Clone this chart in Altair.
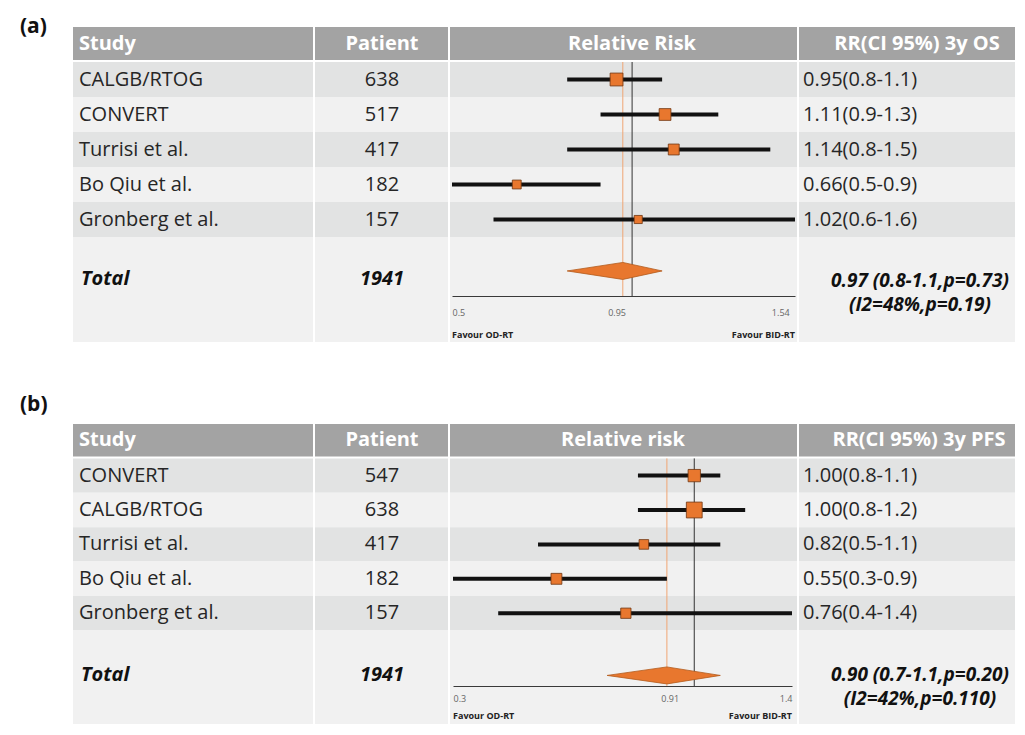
import altair as alt
import pandas as pd

# ---------------- data: panel (a) 3-year overall survival ----------------
os_study = ["CALGB/RTOG", "CONVERT", "Turrisi et al.", "Bo Qiu et al.", "Gronberg et al."]
os_patients = [638, 517, 417, 182, 157]
os_rr = [0.95, 1.11, 1.14, 0.66, 1.02]
os_lo = [0.8, 0.9, 0.8, 0.5, 0.6]
os_hi = [1.1, 1.3, 1.5, 0.9, 1.6]
os_weight = [25, 21, 18, 12, 10]
os_total = 1941
os_pooled = [0.97, 0.8, 1.1]          # estimate, lower, upper
os_summary = ["0.97 (0.8-1.1,p=0.73)", "(I2=48%,p=0.19)"]
os_ticks = [0.5, 0.95, 1.54]
os_domain = [0.5, 1.6]

# ---------------- data: panel (b) 3-year progression-free survival ----------------
pfs_study = ["CONVERT", "CALGB/RTOG", "Turrisi et al.", "Bo Qiu et al.", "Gronberg et al."]
pfs_patients = [547, 638, 417, 182, 157]
pfs_rr = [1.00, 1.00, 0.82, 0.55, 0.76]
pfs_lo = [0.8, 0.8, 0.5, 0.3, 0.4]
pfs_hi = [1.1, 1.2, 1.1, 0.9, 1.4]
pfs_weight = [23, 38, 14, 18, 16]
pfs_total = 1941
pfs_pooled = [0.90, 0.7, 1.1]
pfs_summary = ["0.90 (0.7-1.1,p=0.20)", "(I2=42%,p=0.110)"]
pfs_ticks = [0.3, 0.91, 1.4]
pfs_domain = [0.3, 1.4]

NULL_EFFECT = 1.0

# ---------------- styling ----------------
FONT = "Open Sans"
TXT = "#262626"
HDR_BG = "#a3a3a3"
ROW_DARK = "#e2e3e3"
ROW_LIGHT = "#f1f1f1"
ORANGE = "#e8772e"
W_TAG, W_STUDY, W_PAT, W_FOREST, W_RR = 63, 240, 133, 347, 216


def build_panel(tag, study, patients, rr, lo, hi, weight, total_n, pooled, summary,
                ticks, domain, forest_title, rr_title, g):
    U, top, ymax = g["U"], g["top"], g["ymax"]
    H = round((ymax - top) * U)
    ys = alt.Scale(domain=[top, ymax], reverse=True, nice=False, zero=False)
    xs = alt.Scale(type="sqrt", domain=domain, range=g["xrange"], nice=False, zero=False)
    hdr_y = (1 - 2 / U) / 2

    df = pd.DataFrame({"study": study, "patients": patients, "rr": rr, "lo": lo,
                       "hi": hi, "weight": weight})
    df["row"] = [i + 1.5 for i in range(len(df))]
    df["label"] = [f"{r:.2f}({l:.1f}-{h:.1f})" for r, l, h in zip(rr, lo, hi)]
    df["pat"] = [str(p) for p in patients]

    bg_df = pd.DataFrame({
        "y0": [0] + list(range(1, 6)) + [6],
        "y1": [1 - 2 / U] + [i + 1 for i in range(1, 6)] + [ymax],
        "fill": [HDR_BG] + [ROW_DARK if i % 2 else ROW_LIGHT for i in range(1, 6)] + [ROW_LIGHT],
    })

    def Y(f):
        return alt.Y(f, scale=ys, axis=None)

    def bg(width):
        return alt.Chart(bg_df).mark_rect().encode(
            x=alt.value(0), x2=alt.value(width), y=Y("y0:Q"), y2="y1:Q",
            color=alt.Color("fill:N", scale=None))

    def txt(texts, ylist, x, align="left", bold=False, italic=False, color=TXT, size=20):
        d = pd.DataFrame({"t": texts, "y": ylist})
        return alt.Chart(d).mark_text(
            align=align, baseline="middle", font=FONT, fontSize=size,
            fontWeight="bold" if bold else "normal",
            fontStyle="italic" if italic else "normal", color=color
        ).encode(text="t:N", x=alt.value(x), y=Y("y:Q"))

    def coltext(field, x, align="left"):
        return alt.Chart(df).mark_text(
            align=align, baseline="middle", font=FONT, fontSize=20, color=TXT
        ).encode(text=f"{field}:N", x=alt.value(x), y=Y("row:Q"))

    # tag column
    tag_c = txt([tag], [g["tag_y"]], 12, bold=True, color="#111", size=21).properties(
        width=W_TAG, height=H)

    # study column
    study_c = alt.layer(
        bg(W_STUDY),
        txt(["Study"], [hdr_y], 6, bold=True, color="white"),
        coltext("study", 6),
        txt(["Total"], [g["total_y"]], 8, bold=True, italic=True, color="#111"),
    ).properties(width=W_STUDY, height=H)

    # patient column
    pat_c = alt.layer(
        bg(W_PAT),
        txt(["Patient"], [hdr_y], 67, align="center", bold=True, color="white"),
        coltext("pat", 67, align="center"),
        txt([str(total_n)], [g["total_y"]], 67, align="center", bold=True, italic=True, color="#111"),
    ).properties(width=W_PAT, height=H)

    # forest column
    xax = alt.Axis(values=ticks, labelExpr="'' + datum.value", offset=g["axis_off"],
                   ticks=False, tickSize=0, domainColor="#3a3a3a", domainWidth=1,
                   grid=False, labelFont=FONT, labelFontSize=9, labelColor="#666",
                   labelPadding=g["label_pad"], labelFlush=True, title=None, zindex=1)

    def X(f):
        return alt.X(f, scale=xs, axis=xax)

    vl_df = pd.DataFrame({"x": [pooled[0], NULL_EFFECT], "kind": ["pooled", "null"],
                          "y0": [1, 1], "y1": [g["axis_y"], g["axis_y"]]})
    orange_line = alt.Chart(vl_df[vl_df.kind == "pooled"]).mark_rule(
        color="#f0a574", strokeWidth=1).encode(x=X("x:Q"), y=Y("y0:Q"), y2="y1:Q")
    black_line = alt.Chart(vl_df[vl_df.kind == "null"]).mark_rule(
        color="#333333", strokeWidth=1).encode(x=X("x:Q"), y=Y("y0:Q"), y2="y1:Q")
    whisk = alt.Chart(df).mark_rule(color="#111", strokeWidth=4).encode(
        x=X("lo:Q"), x2="hi:Q", y=Y("row:Q"))
    squares = alt.Chart(df).mark_square(filled=True, fill=ORANGE, stroke="#6e3510",
                                        strokeWidth=0.8, opacity=1).encode(
        x=X("rr:Q"), y=Y("row:Q"),
        size=alt.Size("weight:Q", scale=alt.Scale(domain=[0, 40], range=[0, 264]), legend=None))
    dy, dh = g["diamond_y"], 8.5 / U
    dd = pd.DataFrame({"x": [pooled[1], pooled[0], pooled[2]],
                       "ya": [dy, dy - dh, dy], "yb": [dy, dy + dh, dy]})
    diamond = alt.Chart(dd).mark_area(orient="vertical", color=ORANGE, stroke="#b35b1c",
                                      strokeWidth=0.8, opacity=1).encode(
        x=X("x:Q"), y=Y("ya:Q"), y2="yb:Q")
    fav_l = alt.Chart(pd.DataFrame({"t": ["Favour OD-RT"], "x": [domain[0]], "y": [g["favour_y"]]})).mark_text(
        align="left", baseline="middle", font=FONT, fontSize=9, fontWeight="bold", color="#222"
    ).encode(text="t:N", x=X("x:Q"), y=Y("y:Q"))
    fav_r = alt.Chart(pd.DataFrame({"t": ["Favour BID-RT"], "x": [domain[1]], "y": [g["favour_y"]]})).mark_text(
        align="right", baseline="middle", font=FONT, fontSize=9, fontWeight="bold", color="#222"
    ).encode(text="t:N", x=X("x:Q"), y=Y("y:Q"))
    forest_c = alt.layer(
        bg(W_FOREST),
        txt([forest_title], [hdr_y], g["ftitle_x"], align="center", bold=True, color="white"),
        orange_line, black_line, whisk, squares, diamond, fav_l, fav_r,
    ).properties(width=W_FOREST, height=H)

    # RR column
    rr_c = alt.layer(
        bg(W_RR),
        txt([rr_title], [hdr_y], g["rtitle_x"], align="center", bold=True, color="white"),
        coltext("label", 4),
        txt(summary, [g["rr1_y"], g["rr2_y"]], 121, align="center", bold=True,
            italic=True, color="#111", size=19),
    ).properties(width=W_RR, height=H)

    return alt.hconcat(tag_c, study_c, pat_c, forest_c, rr_c, spacing=2,
                       bounds="flush").resolve_scale(x="independent", y="independent")


geo_a = dict(U=35, top=-19 / 35, ymax=9, tag_y=0.01, diamond_y=6.97, total_y=7.21,
             axis_y=7.686, axis_off=round((7.686 - 9) * 35), label_pad=12,
             favour_y=8.8, rr1_y=7.26, rr2_y=7.94, xrange=[2, 345],
             ftitle_x=182, rtitle_x=118)
Ub = 34.4
geo_b = dict(U=Ub, top=-34 / Ub, ymax=8.72, tag_y=-19 / Ub, diamond_y=6 + 45 / Ub,
             total_y=6 + 45 / Ub, axis_y=6 + 56 / Ub,
             axis_off=round((56 / Ub + 6 - 8.72) * Ub), label_pad=8,
             favour_y=6 + 86 / Ub, rr1_y=6 + 45 / Ub, rr2_y=6 + 69 / Ub,
             xrange=[3, 342], ftitle_x=173, rtitle_x=120)

panel_a = build_panel("(a)", os_study, os_patients, os_rr, os_lo, os_hi, os_weight, os_total,
                      os_pooled, os_summary, os_ticks, os_domain, "Relative Risk",
                      "RR(CI 95%) 3y OS", geo_a)
panel_b = build_panel("(b)", pfs_study, pfs_patients, pfs_rr, pfs_lo, pfs_hi, pfs_weight,
                      pfs_total, pfs_pooled, pfs_summary, pfs_ticks, pfs_domain,
                      "Relative risk", "RR(CI 95%) 3y PFS", geo_b)

chart = alt.vconcat(panel_a, panel_b, spacing=48).resolve_scale(
    x="independent", y="independent"
).properties(padding=0, background="white").configure_view(stroke=None)

chart.save("out.html", embed_options={"renderer": "svg", "actions": False})
